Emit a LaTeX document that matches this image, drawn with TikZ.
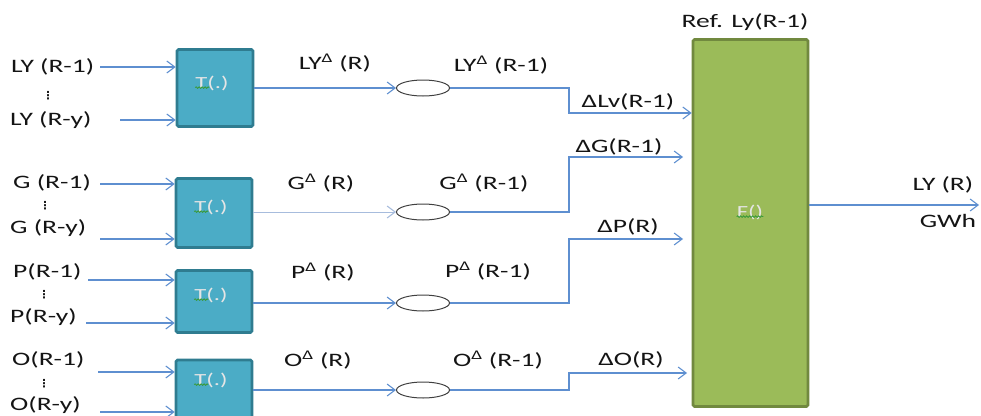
\documentclass[tikz,border=0pt]{standalone}
\usepackage{fontspec}
\setmainfont{Carlito}[FakeStretch=1.45]
\newfontfamily\dotsfont{DejaVu Sans}
\usetikzlibrary{arrows.meta,shapes.geometric,decorations.pathmorphing}
\definecolor{ln}{HTML}{5E8FD0}
\definecolor{lnlight}{HTML}{A7BCDD}
\definecolor{txt}{HTML}{141414}
\definecolor{tfill}{HTML}{4BACC6}
\definecolor{tbord}{HTML}{2F7C90}
\definecolor{ffill}{HTML}{9BBB59}
\definecolor{fbord}{HTML}{71893F}
\definecolor{ogray}{HTML}{404040}
\definecolor{squig}{HTML}{3A9A3A}
\tikzset{
  lbl/.style={font=\fontsize{19}{21}\selectfont, text=txt, inner sep=0pt},
  dotslbl/.style={font=\dotsfont\fontsize{11}{11}\selectfont\bfseries, text=txt, inner sep=0pt},
  tbox/.style={draw=tbord, line width=2.6pt, fill=tfill, rounded corners=1.5pt, minimum width=76pt, inner sep=0pt},
  fbox/.style={draw=fbord, line width=2.6pt, fill=ffill, rounded corners=1.5pt, minimum width=115pt, minimum height=367pt, inner sep=0pt},
  boxlbl/.style={font=\fontsize{17}{19}\selectfont, text=white!90!black, inner sep=0pt},
  conn/.style={draw=ln, line width=1.3pt, -{Straight Barb[length=8pt,width=12pt,line width=1.1pt]}},
  oval/.style={ellipse, draw=ogray, line width=1pt, minimum width=53pt, minimum height=16pt, fill=white, inner sep=0pt},
  wavy/.style={draw=squig, line width=0.8pt, decorate, decoration={snake, amplitude=0.8pt, segment length=3pt}},
}
\begin{document}
\begin{tikzpicture}[x=1pt,y=-1pt]
\useasboundingbox (0,0) rectangle (981,415);

% ---- T boxes ----
\node[tbox, minimum height=77pt] (t1) at (215,88) {};
\node[tbox, minimum height=69pt] (t2) at (214,213) {};
\node[tbox, minimum height=62pt] (t3) at (214,301.5) {};
\node[tbox, minimum height=70pt] (t4) at (214,395) {};
\node[boxlbl] (t1l) at (212,83) {T(.)};
\node[boxlbl] (t2l) at (211,207) {T(.)};
\node[boxlbl] (t3l) at (211,295) {T(.)};
\node[boxlbl] (t4l) at (211,380) {T(.)};
\foreach \n in {t1l,t2l,t3l,t4l}{
  \draw[wavy] ([xshift=0pt,yshift=3pt]\n.south west) -- ([xshift=14pt,yshift=3pt]\n.south west);
}

% ---- F box ----
\node[fbox] (f) at (750.5,223) {};
\node[boxlbl] (fl) at (750,212) {F()};
\draw[wavy] ([yshift=3pt]fl.south west) -- ([yshift=3pt]fl.south east);
\node[lbl] (ref) at (745,22) {Ref. Ly(R-1)};

% ---- input labels ----
\node[lbl, anchor=west] (ly1) at (11,67) {LY (R-1)};
\node[dotslbl] (lyd) at (48,96) {⋮};
\node[lbl, anchor=west] (lyy) at (10,120) {LY (R-y)};
\node[lbl, anchor=west] (g1) at (13,183) {G (R-1)};
\node[dotslbl] (gd) at (45,206) {⋮};
\node[lbl, anchor=west] (gy) at (10,228) {G (R-y)};
\node[lbl, anchor=west] (p1) at (13,272) {P(R-1)};
\node[dotslbl] (pd) at (44,295) {⋮};
\node[lbl, anchor=west] (py) at (10,317) {P(R-y)};
\node[lbl, anchor=west] (o1l) at (12,360) {O(R-1)};
\node[dotslbl] (od) at (44,384) {⋮};
\node[lbl, anchor=west] (oy) at (10,405) {O(R-y)};

% ---- input arrows ----
\coordinate (i1a) at (100,67);  \coordinate (i1b) at (120,120);
\coordinate (i2a) at (100,184); \coordinate (i2b) at (100,239);
\coordinate (i3a) at (88,280);  \coordinate (i3b) at (86,323);
\coordinate (i4a) at (98,372);  \coordinate (i4b) at (100,412);
\draw[conn] (i1a) -- (i1a -| t1.west);
\draw[conn] (i1b) -- (i1b -| t1.west);
\draw[conn] (i2a) -- (i2a -| t2.west);
\draw[conn] (i2b) -- (i2b -| t2.west);
\draw[conn] (i3a) -- (i3a -| t3.west);
\draw[conn] (i3b) -- (i3b -| t3.west);
\draw[conn] (i4a) -- (i4a -| t4.west);
\draw[conn] (i4b) -- (i4b -| t4.west);

% ---- ovals ----
\node[oval] (e1) at (423,88) {};
\node[oval] (e2) at (423,212) {};
\node[oval] (e3) at (423,303) {};
\node[oval] (e4) at (423,390) {};

% ---- T -> oval ----
\draw[conn] (t1.east |- e1) -- (e1.west);
\draw[conn, draw=lnlight, line width=0.9pt] (t2.east |- e2) -- (e2.west);
\draw[conn] (t3.east |- e3) -- (e3.west);
\draw[conn] (t4.east |- e4) -- (e4.west);

% ---- labels between ----
\node[lbl] (l1a) at (335,63) {LY\textsuperscript{Δ} (R)};
\node[lbl] (l1b) at (501,65) {LY\textsuperscript{Δ} (R-1)};
\node[lbl] (l2a) at (321,183) {G\textsuperscript{Δ} (R)};
\node[lbl] (l2b) at (484,183) {G\textsuperscript{Δ} (R-1)};
\node[lbl] (l3a) at (323,272) {P\textsuperscript{Δ} (R)};
\node[lbl] (l3b) at (488,271) {P\textsuperscript{Δ} (R-1)};
\node[lbl] (l4a) at (318,360) {O\textsuperscript{Δ} (R)};
\node[lbl] (l4b) at (498,360) {O\textsuperscript{Δ} (R-1)};

% ---- oval -> F ----
\coordinate (k1) at (569,113);
\coordinate (k2) at (569,157); \coordinate (k2e) at (683,157);
\coordinate (k3) at (569,239); \coordinate (k3e) at (683,239);
\coordinate (k4) at (569,373); \coordinate (k4e) at (687,373);
\draw[conn] (e1.east) -| (k1) -- (k1 -| f.west);
\draw[conn] (e2.east) -| (k2) -- (k2e);
\draw[conn] (e3.east) -| (k3) -- (k3e);
\draw[conn] (e4.east) -| (k4) -- (k4e);
\node[lbl] (d1) at (628,102) {ΔLv(R-1)};
\node[lbl] (d2) at (619,147) {ΔG(R-1)};
\node[lbl] (d3) at (628,227) {ΔP(R)};
\node[lbl] (d4) at (631,360) {ΔO(R)};

% ---- output ----
\coordinate (out) at (979,205);
\draw[conn] (f.east |- out) -- (out);
\node[lbl] (ly) at (943,185) {LY (R)};
\node[lbl] (gwh) at (948,221) {GWh};
\end{tikzpicture}
\end{document}
